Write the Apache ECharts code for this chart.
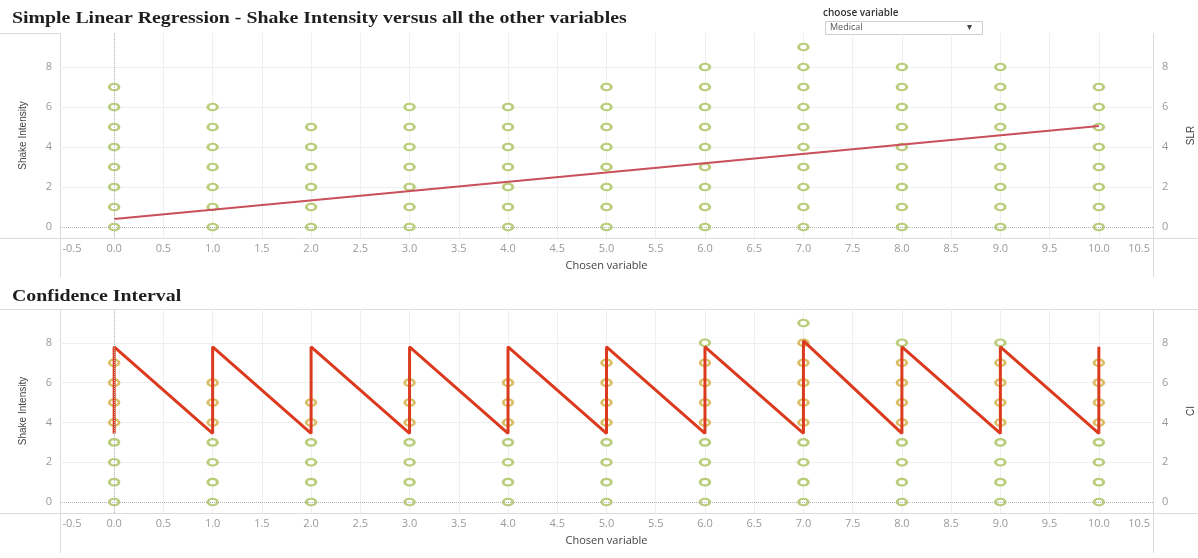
<!DOCTYPE html>
<html><head><meta charset="utf-8">
<script src="https://cdn.jsdelivr.net/npm/echarts@6/dist/echarts.min.js"></script>
<style>html,body{margin:0;padding:0;background:#fff}#c{width:1198px;height:558px}</style>
</head><body><div id="c"></div><script>
// ---- data ----
const chosenValues = [0, 1, 2, 3, 4, 5, 6, 7, 8, 9, 10];
const shakeAtValue = [
  [0, 1, 2, 3, 4, 5, 6, 7],
  [0, 1, 2, 3, 4, 5, 6],
  [0, 1, 2, 3, 4, 5],
  [0, 1, 2, 3, 4, 5, 6],
  [0, 1, 2, 3, 4, 5, 6],
  [0, 1, 2, 3, 4, 5, 6, 7],
  [0, 1, 2, 3, 4, 5, 6, 7, 8],
  [0, 1, 2, 3, 4, 5, 6, 7, 8, 9],
  [0, 1, 2, 3, 4, 5, 6, 7, 8],
  [0, 1, 2, 3, 4, 5, 6, 7, 8],
  [0, 1, 2, 3, 4, 5, 6, 7]
];
const slrX = [0, 10];
const slrY = [0.4, 5.05];
const ciUpper = [7.8, 7.8, 7.8, 7.8, 7.8, 7.8, 7.8, 8.1, 7.8, 7.8, 7.8];
const ciLower = [3.45, 3.45, 3.45, 3.45, 3.45, 3.45, 3.45, 3.45, 3.45, 3.45, 3.45];
const xTickLabels = [-0.5, 0, 0.5, 1, 1.5, 2, 2.5, 3, 3.5, 4, 4.5, 5, 5.5, 6, 6.5, 7, 7.5, 8, 8.5, 9, 9.5, 10, 10.5];
const xGridValues = [0, 0.5, 1, 1.5, 2, 2.5, 3, 3.5, 4, 4.5, 5, 5.5, 6, 6.5, 7, 7.5, 8, 8.5, 9, 9.5, 10];
const yTickLabels = [0, 2, 4, 6, 8];
const yGridValues = [2, 4, 6, 8];
const titles = ['Simple Linear Regression - Shake Intensity versus all the other variables', 'Confidence Interval'];
const selectedVariable = 'Medical';

// ---- build ----
const GREEN = '#a9c15a';
const INCI = '#cfae3f';
const points = [];
chosenValues.forEach((x, i) => shakeAtValue[i].forEach(y => points.push([x, y])));
const ciPoints = points.map(([x, y]) => {
  const i = chosenValues.indexOf(x);
  const inside = y >= ciLower[i] && y <= ciUpper[i];
  return { value: [x, y], itemStyle: { borderColor: inside ? INCI : GREEN } };
});
const ciPath = [];
chosenValues.forEach((x, i) => { ciPath.push([x, ciLower[i]]); ciPath.push([x, ciUpper[i]]); });
const slrLine = slrX.map((x, i) => [x, slrY[i]]);

const FONT = 'Open Sans';
const grids = [
  { left: 60, right: 45, top: 33, height: 205, outerBoundsMode: 'none', containLabel: false },
  { left: 60, right: 45, top: 309, height: 204, outerBoundsMode: 'none', containLabel: false }
];
const xMin = xTickLabels[0], xMax = xTickLabels[xTickLabels.length - 1];
function xAx(g) {
  return {
    gridIndex: g, type: 'value', min: -0.55, max: 10.55,
    axisLine: { show: false }, axisTick: { show: false, customValues: xGridValues },
    axisLabel: {
      customValues: xTickLabels,
      formatter: v => v === xMin ? '{l|' + v.toFixed(1) + '}' : v === xMax ? '{r|' + v.toFixed(1) + '}' : v.toFixed(1),
      rich: { l: { padding: [0, 0, 0, 14], color: '#9a9a9a', fontSize: 11, fontFamily: FONT }, r: { padding: [0, 18, 0, 0], color: '#9a9a9a', fontSize: 11, fontFamily: FONT } },
      color: '#9a9a9a', fontSize: 11, fontFamily: FONT, margin: 5, hideOverlap: false
    },
    splitLine: { show: true, lineStyle: { color: '#efefef', width: 1 } },
    name: 'Chosen variable', nameLocation: 'middle', nameGap: 22,
    nameTextStyle: { color: '#444', fontSize: 11, fontFamily: FONT }
  };
}
function yAx(g, pos, name) {
  return {
    gridIndex: g, type: 'value', position: pos, min: -0.55, max: 9.7,
    axisLine: { show: false }, axisTick: { show: false, customValues: yGridValues },
    axisLabel: { customValues: yTickLabels, color: '#9a9a9a', fontSize: 11, fontFamily: FONT, margin: pos === 'left' ? 8 : 9 },
    splitLine: { show: pos === 'left', lineStyle: { color: '#efefef', width: 1 } },
    name: name, nameLocation: 'middle', nameGap: pos === 'left' ? 32 : 33, nameRotate: 90,
    nameTextStyle: { color: '#444', fontSize: 10, fontFamily: 'Liberation Sans Narrow, Liberation Sans' }
  };
}
const zeroMark = {
  silent: true, symbol: 'none', animation: false, label: { show: false },
  lineStyle: { type: 'dotted', color: '#b5b5b5', width: 1 },
  data: [{ xAxis: 0 }, { yAxis: 0 }]
};
const scatterStyle = { color: '#ffffff', borderColor: GREEN, borderWidth: 2.5 };
const borderLine = { stroke: '#dcdcdc', lineWidth: 1 };
const g = [];
function hline(y, x1, x2) { g.push({ type: 'line', shape: { x1, y1: y, x2, y2: y }, style: borderLine, silent: true }); }
function vline(x, y1, y2) { g.push({ type: 'line', shape: { x1: x, y1, x2: x, y2 }, style: borderLine, silent: true }); }
hline(33.5, 0, 60); hline(238.5, 0, 1198); vline(60.5, 33, 277); vline(1153.5, 33, 277);
hline(309.5, 0, 1198); hline(513.5, 0, 1198); vline(60.5, 309, 553); vline(1153.5, 309, 553);
const titleFont = 'bold 16px "Liberation Serif"';
g.push({ type: 'text', x: 12, y: 11, scaleX: 1.24, style: { text: titles[0], fill: '#1e1e1e', font: titleFont } });
g.push({ type: 'text', x: 12, y: 289, scaleX: 1.24, style: { text: titles[1], fill: '#1e1e1e', font: titleFont } });
g.push({ type: 'text', x: 823, y: 8, style: { text: 'choose variable', fill: '#333', font: '600 10px "Open Sans"' } });
g.push({ type: 'rect', shape: { x: 825.5, y: 21.5, width: 157, height: 13 }, style: { fill: '#fff', stroke: '#cfcfcf', lineWidth: 1 } });
g.push({ type: 'text', x: 830, y: 23, style: { text: selectedVariable, fill: '#555', font: '9px "Open Sans"' } });
g.push({ type: 'text', x: 967, y: 22, style: { text: '▾', fill: '#444', font: '10px "DejaVu Sans"' } });

const chart = echarts.init(document.getElementById('c'), null, { renderer: 'canvas' });
chart.setOption({
  animation: false,
  backgroundColor: '#ffffff',
  grid: grids,
  xAxis: [xAx(0), xAx(1)],
  yAxis: [yAx(0, 'left', 'Shake Intensity'), yAx(0, 'right', 'SLR'), yAx(1, 'left', 'Shake Intensity'), yAx(1, 'right', 'CI')],
  series: [
    { type: 'scatter', xAxisIndex: 0, yAxisIndex: 0, data: points, symbol: 'circle', symbolSize: [9.5, 6.5], itemStyle: scatterStyle, clip: false, markLine: zeroMark, z: 3 },
    { type: 'line', xAxisIndex: 0, yAxisIndex: 1, data: slrLine, showSymbol: false, lineStyle: { color: '#c9505a', width: 2 }, z: 4 },
    { type: 'scatter', xAxisIndex: 1, yAxisIndex: 2, data: ciPoints, symbol: 'circle', symbolSize: [9.5, 6.5], itemStyle: scatterStyle, clip: false, markLine: zeroMark, z: 3 },
    { type: 'line', xAxisIndex: 1, yAxisIndex: 3, data: ciPath, showSymbol: false, lineStyle: { color: '#dc3a1e', width: 3 }, z: 4 }
  ],
  graphic: g
});
</script></body></html>
